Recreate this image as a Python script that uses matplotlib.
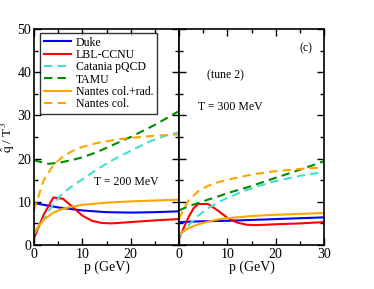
import matplotlib
matplotlib.use("Agg")
import matplotlib.pyplot as plt
import numpy as np

plt.rcParams['font.family'] = ['Liberation Serif', 'DejaVu Serif']
plt.rcParams['mathtext.fontset'] = 'stix'

# T = 200 MeV (left panel)
p_duke_L = [0, 5, 10, 15, 20, 25, 30]
duke_L = [9.7, 8.7, 8.0, 7.6, 7.5, 7.6, 7.8]
p_lbl_L = [0, 2, 4, 6, 8, 10, 12, 14, 16, 20, 25, 30]
lbl_L = [1.5, 7.0, 11.0, 10.7, 8.8, 6.8, 5.6, 5.1, 5.0, 5.3, 5.7, 6.0]
p_cat_L = [0, 2, 4, 6, 8, 10, 13, 16, 20, 24, 28, 30]
cat_L = [2.5, 6.0, 9.5, 12.0, 13.7, 15.2, 17.5, 19.5, 21.8, 24.0, 25.6, 26.0]
p_tamu_L = [0, 3, 5, 8, 10, 13, 16, 20, 25, 30]
tamu_L = [19.6, 18.8, 19.0, 19.7, 20.3, 21.5, 23.0, 25.0, 27.8, 31.0]
p_nr_L = [0, 2, 4, 6, 8, 10, 15, 20, 25, 30]
nr_L = [3.0, 5.8, 7.5, 8.4, 8.9, 9.3, 9.8, 10.1, 10.3, 10.5]
p_nc_L = [0, 2, 4, 6, 8, 10, 13, 17, 20, 25, 30]
nc_L = [8.0, 15.0, 18.5, 20.5, 21.8, 22.7, 23.6, 24.4, 24.8, 25.3, 25.6]

# T = 300 MeV (right panel)
p_duke_R = [0, 5, 10, 15, 20, 25, 30]
duke_R = [5.3, 5.5, 5.6, 5.8, 6.0, 6.2, 6.4]
p_lbl_R = [0, 1, 2, 3, 4, 6, 8, 10, 12, 14, 16, 20, 25, 30]
lbl_R = [1.5, 4.0, 6.5, 8.5, 9.5, 9.5, 8.0, 6.3, 5.2, 4.7, 4.6, 4.8, 5.0, 5.3]
p_cat_R = [0, 2, 4, 6, 8, 10, 13, 16, 20, 25, 30]
cat_R = [2.0, 4.6, 6.8, 8.5, 9.8, 10.9, 12.3, 13.5, 14.8, 16.0, 16.9]
p_tamu_R = [0, 2, 4, 6, 8, 10, 14, 18, 22, 26, 30]
tamu_R = [8.0, 9.0, 9.7, 10.5, 11.2, 12.0, 13.3, 14.8, 16.3, 17.8, 19.4]
p_nr_R = [0, 2, 4, 6, 8, 10, 15, 20, 25, 30]
nr_R = [2.5, 3.9, 4.8, 5.4, 5.9, 6.2, 6.7, 7.0, 7.2, 7.4]
p_nc_R = [0, 1, 2, 4, 6, 8, 10, 15, 20, 25, 30]
nc_R = [6.0, 8.5, 10.3, 12.5, 13.7, 14.5, 15.1, 16.3, 17.1, 17.6, 18.0]

labels = ["Duke", "LBL-CCNU", "Catania pQCD", "TAMU", "Nantes col.+rad.", "Nantes col."]
colors = ["#0000ff", "#ff0000", "#40e0d0", "#008b00", "#ffa500", "#ffa500"]
styles = ["-", "-", "--", "--", "-", "--"]

fig = plt.figure(figsize=(3.74, 2.89), dpi=100)
axL = fig.add_axes([34/374, 1-245/289, 145/374, 216/289])
axR = fig.add_axes([179/374, 1-245/289, 145/374, 216/289])

dataL = [(p_duke_L, duke_L), (p_lbl_L, lbl_L), (p_cat_L, cat_L), (p_tamu_L, tamu_L), (p_nr_L, nr_L), (p_nc_L, nc_L)]
dataR = [(p_duke_R, duke_R), (p_lbl_R, lbl_R), (p_cat_R, cat_R), (p_tamu_R, tamu_R), (p_nr_R, nr_R), (p_nc_R, nc_R)]

for ax, data in ((axL, dataL), (axR, dataR)):
    for (x, y), lab, c, ls in zip(data, labels, colors, styles):
        kw = dict(dashes=(4.0, 2.5)) if ls == "--" else {}
        ax.plot(x, y, color=c, linestyle=ls, lw=1.5, label=lab, **kw)
    ax.set_xlim(0, 30)
    ax.set_ylim(0, 50)
    ax.set_xticks([0, 10, 20])
    ax.set_xticks([5, 15, 25], minor=True)
    ax.set_yticks([0, 10, 20, 30, 40, 50])
    ax.set_yticks([5, 15, 25, 35, 45], minor=True)
    ax.tick_params(which='both', direction='in', top=True, right=True, labelsize=10, pad=2)
    ax.tick_params(which='major', length=5, width=1)
    ax.tick_params(which='minor', length=3, width=1)
    for s in ax.spines.values():
        s.set_linewidth(1.2)
    ax.set_xlabel("p (GeV)", fontsize=10, labelpad=0)

axR.set_xticks([0, 10, 20, 30])
axR.tick_params(axis='y', labelleft=False)
axL.set_ylabel(r"$\hat{\mathrm{q}}$ / T$^3$", fontsize=9.5)
axL.yaxis.set_label_coords(-0.115, 0.5)

leg = axL.legend(loc='upper left', bbox_to_anchor=(6/145, 1-4/216), fontsize=8.5,
                 frameon=True, fancybox=False, edgecolor='black',
                 handlelength=2.3, borderaxespad=0.0, labelspacing=0.03,
                 borderpad=0.3, handletextpad=0.45)
leg.get_frame().set_linewidth(1.0)

axL.text(19.2, 14.5, "T = 200 MeV", fontsize=8.5, ha='center', va='center')
axR.text(9.7, 39.3, "(tune 2)", fontsize=8.5, ha='center', va='center')
axR.text(10.7, 32, "T = 300 MeV", fontsize=8.5, ha='center', va='center')
axR.text(26.2, 45.6, "(c)", fontsize=8.5, ha='center', va='center')

fig.savefig("out.png", dpi=100)
